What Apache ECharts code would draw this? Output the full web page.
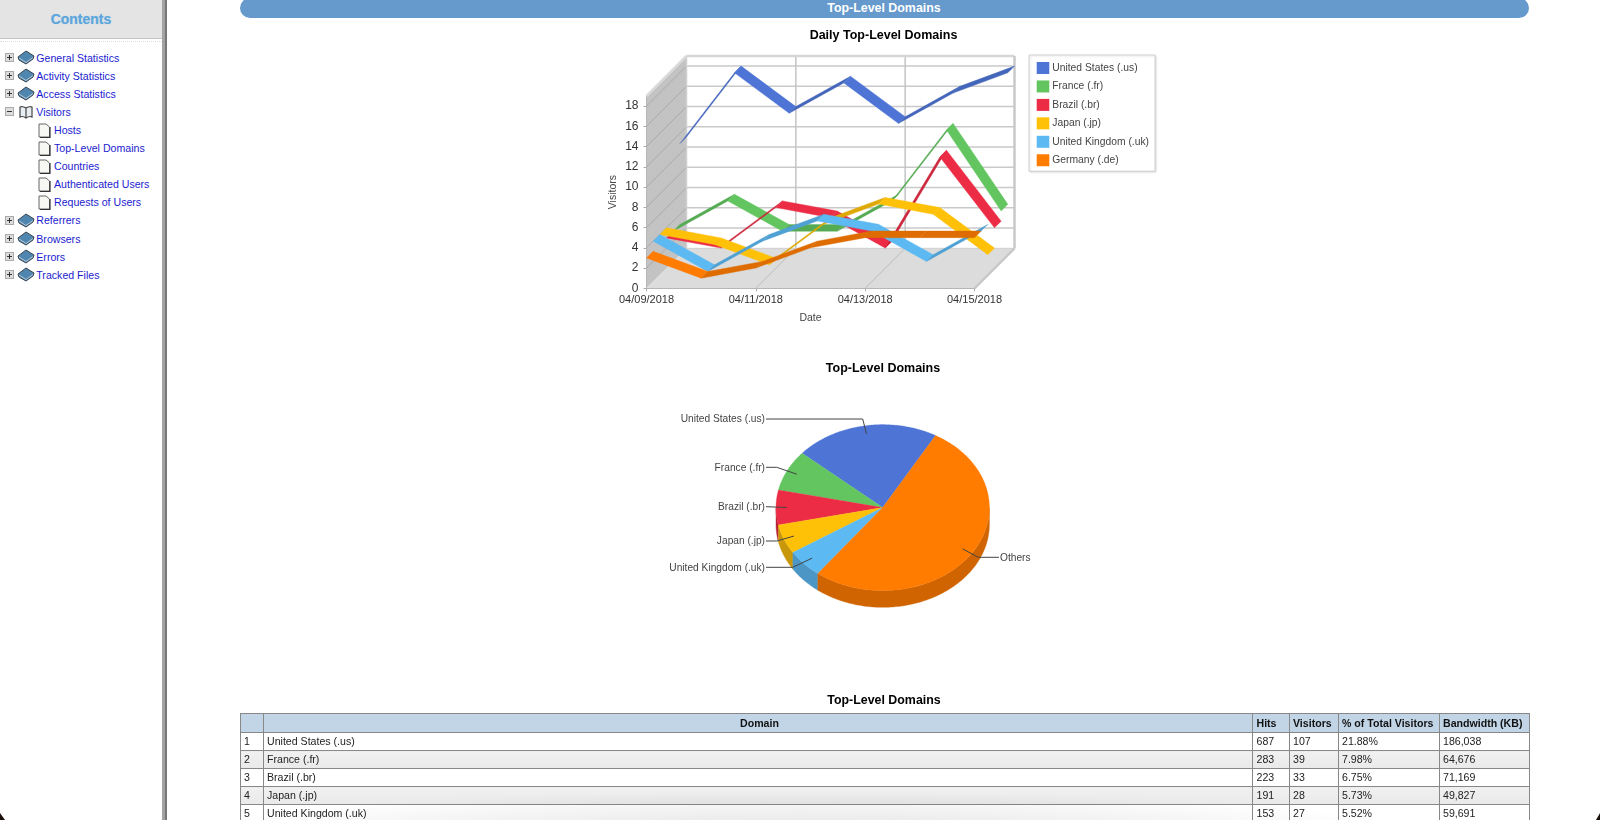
<!DOCTYPE html>
<html><head><meta charset="utf-8"><title>Top-Level Domains</title>
<style>
html,body{margin:0;padding:0;width:1600px;height:820px;overflow:hidden;background:#fff}
#page{position:absolute;left:0;top:0;width:1600px;height:820px;overflow:hidden;filter:blur(.4px);font-family:"Liberation Sans",Arial,sans-serif}
#side{position:absolute;left:0;top:0;width:162px;height:820px;background:#fff}
#sideHead{position:absolute;left:0;top:0;width:162px;height:38px;background:#e4e4e4;border-bottom:1px solid #c4c4c4;text-align:center;line-height:38px;font-weight:bold;font-size:14px;color:#5da6dc;text-shadow:0 0 1px #8fc0e6}
#sideDots{position:absolute;left:0;top:41px;width:162px;border-top:1px dotted #ddd}
#bar{position:absolute;left:162px;top:0;width:3px;height:820px;background:#a3a3a3;border-right:2px solid #777}
.item{position:absolute;font-size:10.6px;color:#1c1ccf;line-height:14px;white-space:nowrap}
.icon{position:absolute}
#hdr{position:absolute;left:239.5px;top:-2px;width:1289px;height:20px;background:#6699cc;border-radius:10px;color:#fff;font-weight:bold;font-size:12.4px;text-align:center;line-height:21px}
#main{position:absolute;left:0;top:0;width:1600px;height:820px}
#tblT{position:absolute;left:239.5px;top:693px;width:1289px;text-align:center;font-weight:bold;font-size:12.4px;color:#000;line-height:14px}
table{position:absolute;left:239.5px;top:713px;width:1289px;border-collapse:collapse;table-layout:fixed;font-size:10.6px;color:#222}
td,th{border:1px solid #888;padding:0 0 0 3.5px;height:17.1px;line-height:17px;white-space:nowrap;overflow:hidden;text-align:left}
th{background:#c2d5e7;color:#111;font-size:10.6px;height:18px}
th.c{text-align:center}
tr.alt td{background:linear-gradient(#f1f1f1,#e9e9e9)}
#shade{position:absolute;left:0;top:770px;width:1600px;height:50px;background:radial-gradient(ellipse 640px 50px at 800px 70px,rgba(0,0,0,.13),rgba(0,0,0,0));pointer-events:none}
.corner{position:absolute;background:#1c0e08}
</style></head><body>
<div id="page">
 <div id="side"><div id="sideHead">Contents</div><div id="sideDots"></div><div id="tree"></div></div>
 <div id="bar"></div>
 <div id="hdr">Top-Level Domains</div>
 <div id="main"></div>
 <div id="tblT">Top-Level Domains</div>
 <table id="tbl"></table>
 <div id="shade"></div>
 <div class="corner" style="left:0;top:813px;width:5px;height:7px;clip-path:polygon(0 0,100% 100%,0 100%)"></div>
 <div class="corner" style="left:1596px;top:813px;width:4px;height:7px;clip-path:polygon(100% 0,100% 100%,0 100%)"></div>
</div>
<script src="https://cdn.jsdelivr.net/npm/echarts@6/dist/echarts.min.js"></script>
<script>
// ---- data ----
const dates = ['04/09/2018','04/10/2018','04/11/2018','04/12/2018','04/13/2018','04/14/2018','04/15/2018'];
const domains = ['United States (.us)','France (.fr)','Brazil (.br)','Japan (.jp)','United Kingdom (.uk)','Germany (.de)'];
const usVisitors = [11,18,14,17,13,16,18];
const frVisitors = [3,6,3,3,6,13,5];
const brVisitors = [3,2,6,5,2,11,4];
const jpVisitors = [4,3,1,5,7,6,2];
const ukVisitors = [4,1,4,6,5,2,5];
const deVisitors = [3,1,2,4,5,5,5];
const pieNames = ['United States (.us)','France (.fr)','Brazil (.br)','Japan (.jp)','United Kingdom (.uk)','Others'];
const pieValues = [107,39,33,28,27,255];
const tableHead = ['','Domain','Hits','Visitors','% of Total Visitors','Bandwidth (KB)'];
const tableRows = [
 ['1','United States (.us)','687','107','21.88%','186,038'],
 ['2','France (.fr)','283','39','7.98%','64,676'],
 ['3','Brazil (.br)','223','33','6.75%','71,169'],
 ['4','Japan (.jp)','191','28','5.73%','49,827'],
 ['5','United Kingdom (.uk)','153','27','5.52%','59,691']
];
const treeItems = [
 ['General Statistics',0,'c'],['Activity Statistics',0,'c'],['Access Statistics',0,'c'],['Visitors',0,'o'],
 ['Hosts',1],['Top-Level Domains',1],['Countries',1],['Authenticated Users',1],['Requests of Users',1],
 ['Referrers',0,'c'],['Browsers',0,'c'],['Errors',0,'c'],['Tracked Files',0,'c']
];
const lineColors = ['#4e75d6','#62c560','#ec2c45','#ffc107','#5cb9f2','#ff7c00'];
const pieColors = ['#4e75d6','#62c560','#ec2c45','#ffc107','#5cb9f2','#ff7c00'];
const pieSideColors = ['#3d5ca8','#4e9c4c','#b82236','#c9980a','#4c96c6','#cf6400'];

// ---- page chrome ----
const tree = document.getElementById('tree');
let html = '';
treeItems.forEach((it, i) => {
  const y = 50.7 + i * 18.08;
  if (it[1] === 0) {
    const minus = it[2] === 'o';
    html += `<svg class="icon" style="left:5px;top:${y+2.5}px" width="9" height="9"><rect x=".5" y=".5" width="8" height="8" fill="#ddd" stroke="#aaa"/><path d="M2 4.5h5${minus?'':'M4.5 2v5'}" stroke="#333" stroke-width="1"/></svg>`;
    if (minus) html += `<svg class="icon" style="left:18px;top:${y}px" width="16" height="14"><path d="M8 3C6 1.5 3 1.5 2 2V12C4 11 6 11.5 8 13C10 11.5 12 11 14 12V2C13 1.5 10 1.5 8 3V13" fill="#e8eef2" stroke="#444" stroke-width="1.2"/></svg>`;
    else html += `<svg class="icon" style="left:17px;top:${y-.5}px" width="18" height="15"><path d="M1 7L9 1L17 6L16 9L9 14L2 10Z" fill="#4f86b0" stroke="#3a4650" stroke-width="1"/><path d="M2 8L9 12.5L16 7.5" fill="none" stroke="#cfd8de" stroke-width=".8"/></svg>`;
    html += `<div class="item" style="left:36.3px;top:${y}px">${it[0]}</div>`;
  } else {
    html += `<svg class="icon" style="left:38px;top:${y-.5}px" width="13" height="15"><path d="M1 1H8L11.5 4V14H1Z" fill="#f7f7f3" stroke="#666" stroke-width="1"/><path d="M12 4V14.5H2" fill="none" stroke="#333" stroke-width="1.2"/></svg>`;
    html += `<div class="item" style="left:54px;top:${y}px">${it[0]}</div>`;
  }
});
tree.innerHTML = html;

const colW = [23,989.5,36.5,49,101,90];
let t = '<colgroup>' + colW.map(w => `<col style="width:${w}px">`).join('') + '</colgroup><tr>';
tableHead.forEach((h, i) => { t += `<th class="${i===1?'c':''}">${h}</th>`; });
t += '</tr>';
tableRows.forEach((r, i) => { t += `<tr class="${i%2?'alt':''}">` + r.map(c => `<td>${c}</td>`).join('') + '</tr>'; });
document.getElementById('tbl').innerHTML = t;

// ---- chart ----
const seriesValues = [usVisitors, frVisitors, brVisitors, jpVisitors, ukVisitors, deVisitors];
const DEPTH = 40;                     // depth of the 3D box, px
const SLOT = DEPTH / domains.length;  // depth taken by each ribbon
const YMAX = 19;
const LABEL_FONT = '"Liberation Sans",Arial,sans-serif';

function shade(hex, f) {
  const n = parseInt(hex.slice(1), 16);
  const c = s => Math.round(((n >> s) & 255) * f);
  return `rgb(${c(16)},${c(8)},${c(0)})`;
}

function renderWalls(params, api) {
  const c = (x, y) => api.coord([x, y]);
  const back = p => [p[0] + DEPTH, p[1] - DEPTH];
  const last = dates.length - 1;
  const kids = [];
  const poly = (pts, fill, z) => kids.push({type:'polygon', shape:{points:pts}, style:{fill}, z2:z||0});
  const line = (a, b, stroke, w, z) => kids.push({type:'line', shape:{x1:a[0],y1:a[1],x2:b[0],y2:b[1]}, style:{stroke, lineWidth:w}, z2:z||1});
  poly([c(0,0), back(c(0,0)), back(c(0,YMAX)), c(0,YMAX)], '#c3c3c3');
  poly([c(0,0), c(last,0), back(c(last,0)), back(c(0,0))], '#dcdcdc');
  for (let y = 2; y <= 18; y += 2) {
    line(c(0,y), back(c(0,y)), '#a9a9a9', 1);
    line(back(c(0,y)), back(c(last,y)), '#c9c9c9', 1.5);
  }
  [2, 4].forEach(x => {
    line(c(x,0), back(c(x,0)), '#bdbdbd', 1);
    line(back(c(x,0)), back(c(x,YMAX)), '#c4c4c4', 1.5);
  });
  line(back(c(0,0)), back(c(last,0)), '#cfcfcf', 1);
  line(back(c(0,0)), back(c(0,YMAX)), '#cfcfcf', 1.5);
  line(c(0,YMAX), back(c(0,YMAX)), '#dadada', 2.5);
  line(back(c(0,YMAX)), back(c(last,YMAX)), '#d6d6d6', 2.5);
  line(back(c(last,0)), back(c(last,YMAX)), '#c8c8c8', 2.5);
  line(c(last,0), back(c(last,0)), '#c8c8c8', 2.5);
  return {type:'group', children:kids};
}

function ribbon(k) {
  const vals = seriesValues[domains.length - 1 - k];
  const color = lineColors[domains.length - 1 - k];
  return function (params, api) {
    const i = params.dataIndex;
    if (i >= vals.length - 1) return null;
    const off = (p, n) => [p[0] + n * SLOT, p[1] - n * SLOT];
    const a = api.coord([i, vals[i]]), b = api.coord([i + 1, vals[i + 1]]);
    const fill = vals[i + 1] >= vals[i] ? shade(color, 0.87) : color;
    return {type:'polygon',
      shape:{points:[off(a,k), off(b,k), off(b,k+1), off(a,k+1)]},
      style:{fill, stroke:fill, lineWidth:.4}};
  };
}

const PIE = {cx:882.7, cy:507.6, rx:106.7, ry:83, depth:16.7, start:29.7};
const pieTotal = pieValues.reduce((a, b) => a + b, 0);
const pieLabels = [
  {y:419, knee:862.7, side:'l'},
  {y:467.3, knee:776.7, side:'l'},
  {y:506.7, knee:766, side:'l'},
  {y:541, knee:776.7, side:'l'},
  {y:567.3, knee:792.7, side:'l'},
  {y:557.3, knee:978.3, side:'r'}
];
function pieAt(deg, dy, ratio) {
  const a = deg * Math.PI / 180, r = ratio === undefined ? 1 : ratio;
  return [PIE.cx + PIE.rx * r * Math.sin(a), PIE.cy - PIE.ry * r * Math.cos(a) + (dy || 0)];
}
function arc(from, to, dy) {
  const pts = [], n = Math.max(2, Math.ceil(Math.abs(to - from)));
  for (let j = 0; j <= n; j++) pts.push(pieAt(from + (to - from) * j / n, dy));
  return pts;
}
function renderPie(params, api) {
  const i = params.dataIndex;
  let acc = 0;
  for (let j = 0; j < i; j++) acc += pieValues[j];
  const hi = PIE.start - acc / pieTotal * 360;            // going counter-clockwise
  const lo = hi - api.value(0) / pieTotal * 360;
  const kids = [];
  // visible rim: the part of the slice lying in the lower half of the ellipse
  let a = lo, b = hi;
  const shift = Math.floor(a / 360) * 360;
  a -= shift; b -= shift;
  const from = Math.max(a, 90), to = Math.min(b, 270);
  if (to > from) {
    const top = arc(from, to, 0), bot = arc(to, from, PIE.depth);
    kids.push({type:'polygon', shape:{points:top.concat(bot)},
      style:{fill:pieSideColors[i], stroke:pieSideColors[i], lineWidth:.4}, z2:1});
  }
  const face = [[PIE.cx, PIE.cy]].concat(arc(hi, lo, 0));
  kids.push({type:'polygon', shape:{points:face}, style:{fill:pieColors[i], stroke:pieColors[i], lineWidth:.3}, z2:2});
  const L = pieLabels[i], left = L.side === 'l';
  const inner = pieAt((hi + lo) / 2, 0, 0.9);
  const edge = left ? 766 : 999;
  kids.push({type:'polyline', shape:{points:[[edge, L.y],[L.knee, L.y],inner]},
    style:{stroke:'#444', lineWidth:1, fill:null}, z2:3});
  kids.push({type:'text', style:{x:left ? 765 : 1000, y:L.y + .5, text:pieNames[i],
    align:left ? 'right' : 'left', verticalAlign:'middle',
    font:'10.2px ' + LABEL_FONT, fill:'#444'}, z2:4});
  return {type:'group', children:kids};
}

const lineSeries = domains.map((name, idx) => ({
  name, type:'custom', coordinateSystem:'cartesian2d', clip:false, silent:true,
  itemStyle:{color:lineColors[idx]},
  encode:{x:0, y:1},
  renderItem:ribbon(domains.length - 1 - idx),
  data:seriesValues[idx].map((v, i) => [i, v])
}));

const chart = echarts.init(document.getElementById('main'), null, {renderer:'canvas'});
chart.setOption({
  animation:false,
  backgroundColor:'transparent',
  title:[
    {text:'Daily Top-Level Domains', left:883.5, top:28.5, textAlign:'center', padding:0,
     textStyle:{fontFamily:LABEL_FONT, fontSize:12.5, fontWeight:'bold', color:'#000', lineHeight:15}},
    {text:'Top-Level Domains', left:883, top:361, textAlign:'center', padding:0,
     textStyle:{fontFamily:LABEL_FONT, fontSize:12.5, fontWeight:'bold', color:'#000', lineHeight:15}}
  ],
  legend:{
    left:1029, top:55, orient:'vertical', icon:'rect', data:domains, selectedMode:false,
    itemWidth:12.6, itemHeight:12, itemGap:6.45, padding:[7,6,5,7.7],
    backgroundColor:'#fff', borderColor:'#cfcfcf', borderWidth:1,
    shadowColor:'rgba(0,0,0,.12)', shadowBlur:2, shadowOffsetX:1, shadowOffsetY:1,
    textStyle:{fontFamily:LABEL_FONT, fontSize:10.3, color:'#444', padding:[0,0,0,-2]}
  },
  grid:{left:646.5, top:96, width:328, height:192.3, containLabel:false},
  xAxis:{
    type:'category', data:dates, boundaryGap:false, name:'Date', nameLocation:'middle', nameGap:24,
    nameTextStyle:{fontFamily:LABEL_FONT, fontSize:10.5, color:'#444'},
    axisLine:{lineStyle:{color:'#aaa', width:1}},
    axisTick:{length:3, interval:1, lineStyle:{color:'#aaa'}},
    axisLabel:{interval:1, margin:6.5, fontFamily:LABEL_FONT, fontSize:11, color:'#333', hideOverlap:false},
    splitLine:{show:false}
  },
  yAxis:{
    type:'value', min:0, max:YMAX, interval:2, name:'Visitors', nameLocation:'middle', nameGap:28,
    nameTextStyle:{fontFamily:LABEL_FONT, fontSize:10.5, color:'#444'},
    axisLine:{show:true, lineStyle:{color:'#aaa', width:1}},
    axisTick:{show:true, length:3, lineStyle:{color:'#aaa'}},
    axisLabel:{margin:8, showMaxLabel:false, fontFamily:LABEL_FONT, fontSize:12, color:'#333'},
    splitLine:{show:false}
  },
  series:[
    {name:'walls', type:'custom', coordinateSystem:'cartesian2d', clip:false, silent:true,
     encode:{x:0, y:1}, z:1, renderItem:renderWalls, data:[[0,0]]},
    ...lineSeries,
    {name:'Top-Level Domains', type:'custom', coordinateSystem:'none', silent:true,
     renderItem:renderPie, encode:{value:0}, data:pieValues.map((v, i) => ({name:pieNames[i], value:[v]}))}
  ]
});
</script>
</body></html>
